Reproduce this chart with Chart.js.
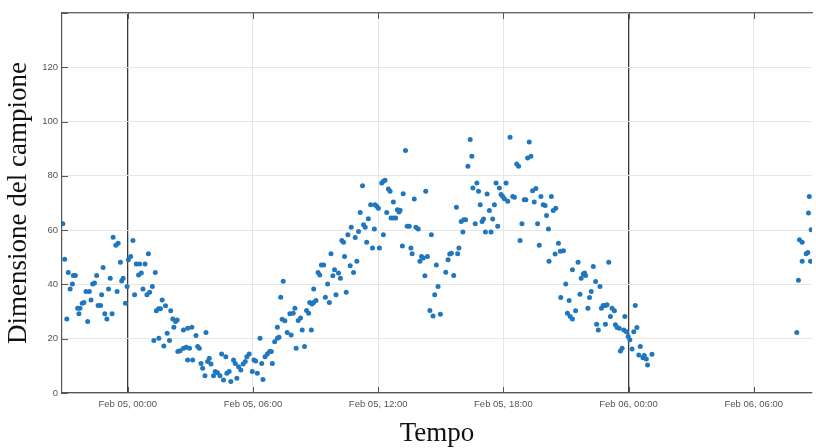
<!DOCTYPE html>
<html>
<head>
<meta charset="utf-8">
<script src="https://cdn.jsdelivr.net/npm/chart.js@4.4.1/dist/chart.umd.min.js"></script>
<style>
  html, body { margin: 0; padding: 0; background: #ffffff; }
  #wrap { width: 816px; height: 448px; position: relative; }
</style>
</head>
<body>
<div id="wrap"><canvas id="c" width="816" height="448"></canvas></div>
<script>
// Hours since Feb 05, 00:00
const hours = [
  -3.11,-3.02,-2.85,-2.65,-2.61,-2.51,-2.76,-2.92,-2.40,-2.29,-2.34,-2.18,-2.10,-2.00,-1.84,-1.92,-1.76,-1.68,-1.59,-1.49,
  -1.42,-1.30,-1.25,-1.18,-1.10,-1.00,-0.92,-0.84,-0.75,-0.70,-0.57,-0.46,-0.51,-0.35,-0.29,-0.22,-0.11,-0.03,0.03,0.14,
  0.25,0.33,0.41,0.57,0.52,0.65,0.83,0.73,0.92,1.05,1.18,0.99,1.32,1.37,1.48,1.57,1.65,1.81,2.06,2.16,
  2.29,2.37,2.21,1.89,2.00,1.25,1.49,1.73,2.40,2.51,2.67,2.80,2.87,2.67,2.87,
  2.96,3.11,3.07,3.27,3.35,3.43,3.51,3.59,3.75,3.70,3.83,3.91,3.99,4.11,4.19,4.30,4.42,4.50,4.59,4.70,
  4.75,4.86,4.94,5.07,5.15,5.23,5.31,5.42,5.53,5.63,5.71,5.82,5.97,6.05,6.13,6.21,6.34,6.42,6.48,6.58,
  6.69,6.80,6.88,6.93,7.04,7.17,7.25,7.17,7.33,7.45,7.40,7.53,7.64,7.77,7.83,7.93,8.01,8.07,8.17,8.28,
  8.36,8.47,8.57,8.67,8.72,8.83,8.91,
  8.80,8.91,9.02,9.47,9.66,9.58,9.98,10.10,10.19,10.47,9.20,9.28,9.39,9.12,9.74,9.83,9.91,10.39,10.26,10.34,
  10.55,10.66,10.71,10.82,10.90,10.98,11.06,11.14,11.25,11.30,11.38,11.45,11.53,11.64,11.73,11.82,11.85,11.93,12.01,12.06,
  12.17,12.25,12.33,12.25,12.41,12.49,12.57,12.62,12.73,12.84,12.73,12.92,13.00,13.05,13.20,13.16,13.31,13.39,13.49,13.57,
  13.63,13.73,13.81,13.92,14.00,14.08,14.16,14.28,14.24,14.36,14.55,14.79,14.71,14.48,14.63,14.87,
  14.98,15.24,15.35,15.43,15.51,15.62,15.75,15.81,15.87,15.98,16.06,16.10,16.19,16.30,16.41,16.49,16.54,16.65,16.73,16.81,
  16.89,16.98,17.05,17.14,17.22,17.33,17.41,17.49,17.57,17.65,17.73,17.81,17.89,17.97,18.05,18.13,18.21,18.32,18.45,18.53,
  18.64,18.73,18.80,18.89,19.00,19.08,19.16,19.24,19.32,19.40,19.48,19.56,19.64,19.72,19.80,19.91,20.00,20.07,20.16,20.19,
  20.30,20.39,20.51,20.48,20.64,20.73,20.75,
  20.88,20.99,21.15,21.31,21.07,21.20,21.31,21.46,21.58,21.67,21.73,21.83,21.89,21.94,22.05,22.13,22.21,22.31,22.42,22.47,
  22.55,22.63,22.70,22.78,22.89,22.97,22.89,23.05,23.13,23.21,23.32,23.37,23.45,23.55,23.61,23.69,23.77,23.82,23.90,23.98,
  24.06,24.17,24.25,24.32,24.40,24.49,24.56,24.69,24.75,24.85,24.91,25.12,
  32.66,32.62,32.75,32.19,32.32,32.51,32.59,32.32,32.72,32.14,32.06
];
const sampleSize = [
  62.4,49.3,44.4,40.2,43.3,43.3,38.3,27.3,31.2,31.2,29.2,33.1,33.3,37.4,37.4,26.3,34.3,40.2,40.5,43.3,
  32.2,32.2,36.2,46.2,29.2,27.3,38.3,42.3,29.2,57.4,54.4,55.2,37.4,48.2,41.3,42.3,33.1,39.2,49.1,50.3,
  56.2,36.2,47.5,47.5,43.5,44.2,47.5,38.3,36.2,37.1,39.2,51.3,44.4,30.3,31.0,31.0,34.3,32.1,30.3,27.3,
  26.3,26.9,24.2,22.0,19.3,19.3,20.2,17.3,15.3,15.6,16.5,16.9,12.2,23.2,23.9,
  16.5,12.2,24.2,21.2,17.1,16.5,10.9,9.1,22.3,6.4,11.6,12.8,10.7,6.4,7.9,7.5,6.4,14.4,4.8,13.4,
  7.3,7.9,4.2,12.2,10.9,5.4,9.7,8.5,10.7,11.6,13.4,14.4,7.9,12.2,11.8,7.3,20.2,10.9,5.0,13.4,
  14.4,15.3,15.3,10.9,18.9,20.2,20.5,24.2,35.3,41.2,27.2,26.6,22.3,29.2,21.4,29.4,31.2,16.5,26.7,27.6,
  23.2,17.1,30.4,29.4,33.3,32.8,38.3,
  23.2,33.3,34.1,35.3,33.3,40.2,36.2,44.2,42.3,37.1,43.5,47.2,47.2,44.4,51.3,43.2,45.4,50.3,56.2,55.5,
  58.3,46.9,61.1,44.4,57.3,48.5,59.5,66.5,76.4,62.0,61.1,55.5,64.2,69.4,53.4,60.4,69.4,68.8,68.1,53.4,
  77.4,78.0,78.4,58.3,66.5,75.2,74.3,64.5,64.5,64.5,70.4,67.5,66.7,67.3,73.4,54.2,89.3,61.4,61.4,53.4,
  51.3,71.5,61.1,60.4,48.5,50.3,49.7,74.3,43.2,50.3,58.3,47.2,36.2,30.4,28.4,39.2,
  29.0,44.5,49.1,51.2,51.5,43.3,68.4,51.3,53.4,63.2,59.3,63.8,63.8,83.5,93.4,87.2,75.5,62.4,77.4,74.3,
  69.4,63.2,64.1,59.3,73.3,67.2,59.3,64.1,69.4,77.4,61.4,75.5,73.1,72.4,71.6,77.4,70.6,94.2,72.4,72.1,
  84.4,83.5,56.2,62.4,71.2,71.2,86.6,92.5,87.2,74.5,70.4,75.3,62.4,54.4,72.4,69.4,69.1,65.4,60.4,48.5,
  72.4,67.2,68.1,51.2,55.2,52.2,35.2,
  52.4,40.2,34.1,45.4,29.4,28.2,27.3,30.3,48.2,36.4,42.3,43.8,44.2,43.3,31.2,35.2,37.4,46.6,41.1,25.3,
  23.2,39.2,31.2,32.2,32.2,32.5,25.3,48.2,28.2,31.2,30.3,25.1,24.1,23.9,15.5,16.5,23.2,28.2,22.6,20.8,
  19.6,16.2,22.6,32.2,24.1,14.0,17.1,13.0,13.8,12.5,10.3,14.3,
  72.4,66.3,60.1,56.5,55.5,51.3,51.8,48.5,48.5,41.5,22.3
];
const tickHours = [0, 6, 12, 18, 24, 30];
const tickLabels = ["Feb 05, 00:00", "Feb 05, 06:00", "Feb 05, 12:00", "Feb 05, 18:00", "Feb 06, 00:00", "Feb 06, 06:00"];
const yTicks = [0, 20, 40, 60, 80, 100, 120, 140];
const xTitle = "Tempo";
const yTitle = "Dimensione del campione";

const points = hours.map((h, i) => ({ x: h, y: sampleSize[i] }));
const X_MIN = -3.15, X_MAX = 32.79;

const innerTicks = {
  id: 'innerTicks',
  afterDatasetsDraw(chart) {
    const { ctx, chartArea: a, scales } = chart;
    ctx.save();
    ctx.strokeStyle = '#555';
    ctx.lineWidth = 1;
    ctx.beginPath();
    tickHours.forEach(h => {
      const px = Math.round(scales.x.getPixelForValue(h)) + 0.5;
      ctx.moveTo(px, a.bottom); ctx.lineTo(px, a.bottom - 6);
      ctx.moveTo(px, a.top); ctx.lineTo(px, a.top + 6);
    });
    yTicks.forEach(v => {
      const py = Math.round(scales.y.getPixelForValue(v)) + 0.5;
      ctx.moveTo(a.left, py); ctx.lineTo(a.left + 6, py);
    });
    ctx.stroke();
    ctx.restore();
  }
};

new Chart(document.getElementById('c'), {
  type: 'scatter',
  data: {
    datasets: [{
      data: points,
      pointStyle: 'circle',
      pointRadius: 2.5,
      pointBorderWidth: 0,
      backgroundColor: '#2077bd',
      borderColor: '#2077bd'
    }]
  },
  options: {
    responsive: false,
    animation: false,
    devicePixelRatio: 1,
    layout: { padding: { top: 13, right: 0, left: 0, bottom: 0 } },
    plugins: { legend: { display: false }, tooltip: { enabled: false } },
    scales: {
      x: {
        type: 'linear',
        position: 'bottom',
        min: X_MIN, max: X_MAX,
        afterBuildTicks: s => { s.ticks = tickHours.map(v => ({ value: v })); },
        afterFit: s => { s.height = 55; },
        ticks: {
          autoSkip: false, maxRotation: 0, padding: 6,
          color: '#555',
          font: { family: 'Liberation Sans', size: 9.5 },
          callback: (v) => { const i = tickHours.indexOf(v); return i >= 0 ? tickLabels[i] : ''; }
        },
        grid: {
          drawTicks: false,
          color: c => (c.tick && c.tick.value % 24 === 0) ? '#3a3a3a' : '#e6e6e6',
          lineWidth: c => (c.tick && c.tick.value % 24 === 0) ? 1.3 : 1
        },
        border: { display: true, color: '#555', width: 1.3 },
        title: {
          display: true, text: xTitle, color: '#111',
          font: { family: 'Liberation Serif', size: 27, lineHeight: 1 },
          padding: { top: 0, bottom: 1 }
        }
      },
      xTop: {
        type: 'linear',
        position: 'top',
        min: X_MIN, max: X_MAX,
        ticks: { display: false },
        grid: { drawOnChartArea: false, drawTicks: false },
        border: { display: true, color: '#666', width: 1.2 },
        afterFit: s => { s.height = 0; }
      },
      y: {
        type: 'linear',
        position: 'left',
        min: 0, max: 140,
        afterBuildTicks: s => { s.ticks = yTicks.map(v => ({ value: v })); },
        afterFit: s => { s.width = 62; },
        ticks: {
          padding: 4, color: '#555',
          font: { family: 'Liberation Sans', size: 9.5 },
          callback: v => (v === 140 ? '' : String(v))
        },
        grid: { drawTicks: false, color: '#e6e6e6' },
        border: { display: true, color: '#555', width: 1.2 },
        title: {
          display: true, text: yTitle, color: '#111',
          font: { family: 'Liberation Serif', size: 27, lineHeight: 1 },
          padding: { top: 5, bottom: 0 }
        }
      }
    }
  },
  plugins: [innerTicks]
});
</script>
</body>
</html>
